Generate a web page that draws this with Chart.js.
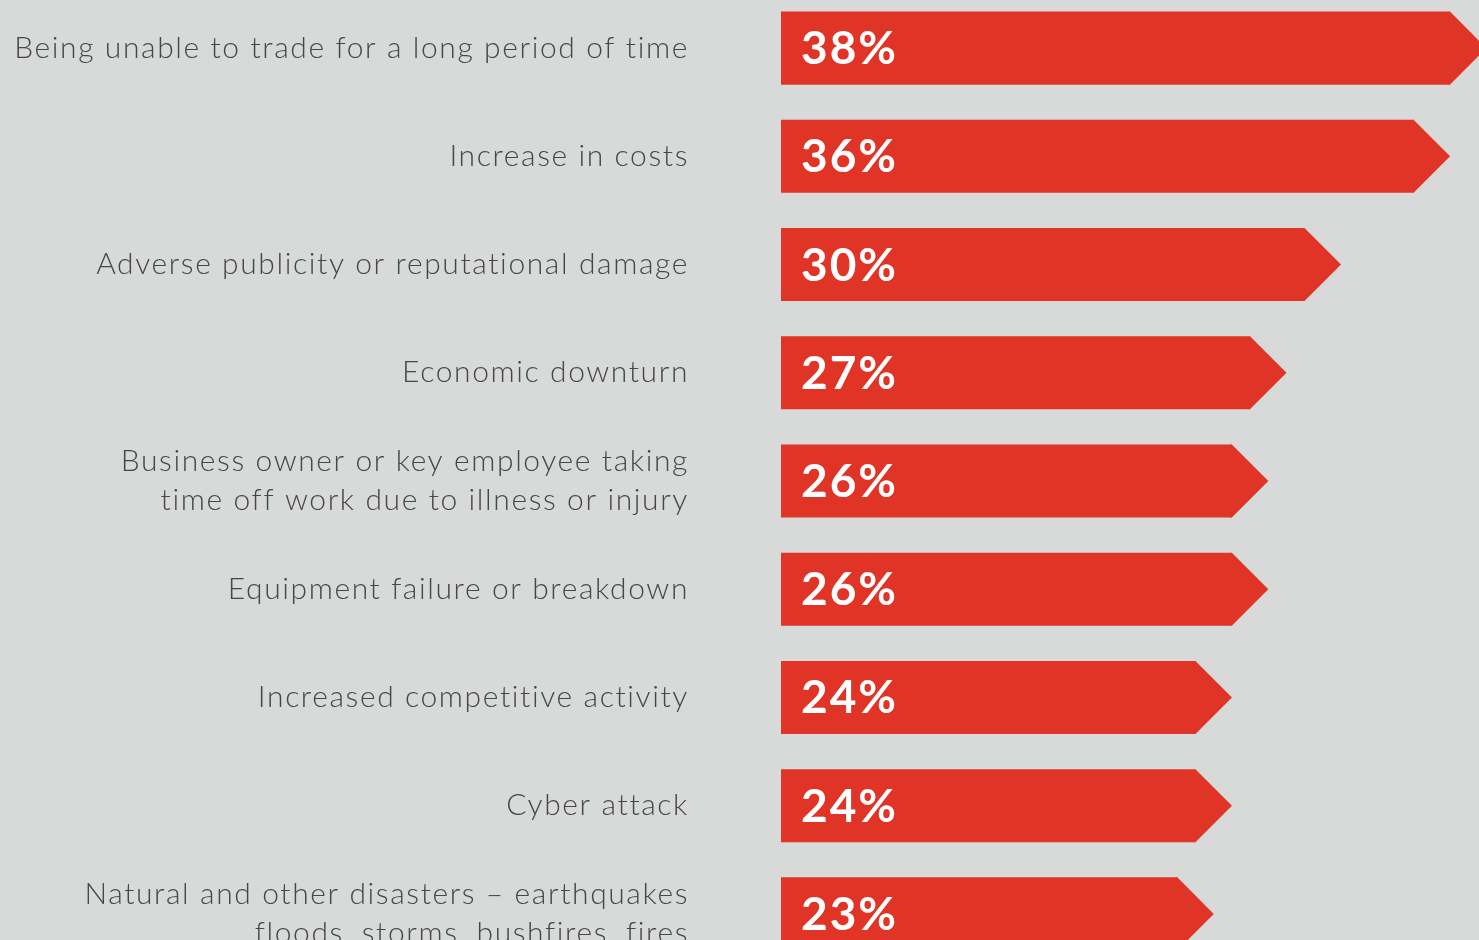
<!DOCTYPE html>
<html>
<head>
<meta charset="utf-8">
<script src="https://cdn.jsdelivr.net/npm/chart.js@4"></script>
<style>
  html, body { margin: 0; padding: 0; background: #d8d9d9; overflow: hidden; }
  #riskChart { position: absolute; left: 0; top: -6px; }
</style>
</head>
<body>
<canvas id="riskChart" width="1479" height="974"></canvas>
<script>
// Biggest business risks (share of respondents)
const categories = [
  "Being unable to trade for a long period of time",
  "Increase in costs",
  "Adverse publicity or reputational damage",
  "Economic downturn",
  ["Business owner or key employee taking", "time off work due to illness or injury"],
  "Equipment failure or breakdown",
  "Increased competitive activity",
  "Cyber attack",
  ["Natural and other disasters \u2013 earthquakes", "floods, storms, bushfires, fires"]
];
const values = [38, 36, 30, 27, 26, 26, 24, 24, 23];

const RED = "#e03526";

// wider letter spacing for the category labels
const spacing = {
  id: "spacing",
  beforeDraw(chart) { chart.ctx.letterSpacing = "1.6px"; }
};

// draws the arrow tip on each bar and the white % label
const arrowBars = {
  id: "arrowBars",
  afterDatasetsDraw(chart) {
    const ctx = chart.ctx;
    const left = chart.chartArea.left;
    const meta = chart.getDatasetMeta(0);
    ctx.save();
    meta.data.forEach((bar, i) => {
      const half = bar.height / 2;
      ctx.fillStyle = RED;
      ctx.beginPath();
      ctx.moveTo(bar.x - 1, bar.y - half);
      ctx.lineTo(bar.x, bar.y - half);
      ctx.lineTo(bar.x + half, bar.y);
      ctx.lineTo(bar.x, bar.y + half);
      ctx.lineTo(bar.x - 1, bar.y + half);
      ctx.closePath();
      ctx.fill();

      ctx.fillStyle = "#ffffff";
      ctx.font = "bold 46px Lato";
      ctx.letterSpacing = "2px";
      ctx.textAlign = "left";
      ctx.textBaseline = "alphabetic";
      ctx.fillText(values[i] + "%", left + 20, bar.y + 16);
    });
    ctx.restore();
  }
};

new Chart(document.getElementById("riskChart"), {
  type: "bar",
  data: {
    labels: categories,
    datasets: [{
      data: values,
      backgroundColor: RED,
      borderWidth: 0,
      barPercentage: 0.675,
      categoryPercentage: 1
    }]
  },
  options: {
    indexAxis: "y",
    responsive: false,
    animation: false,
    layout: { padding: 0 },
    plugins: {
      legend: { display: false },
      tooltip: { enabled: false }
    },
    scales: {
      x: {
        display: false,
        min: 1.2,
        max: 39.6
      },
      y: {
        afterFit(scale) {
          scale.width = 781;
          scale.paddingTop = 0;
          scale.paddingBottom = 0;
        },
        grid: { display: false, drawTicks: false },
        border: { display: false },
        ticks: {
          padding: 92,
          color: "#474747",
          font: { family: "Lato", size: 30, weight: "300", lineHeight: 1.3 }
        }
      }
    }
  },
  plugins: [spacing, arrowBars]
});
</script>
</body>
</html>
